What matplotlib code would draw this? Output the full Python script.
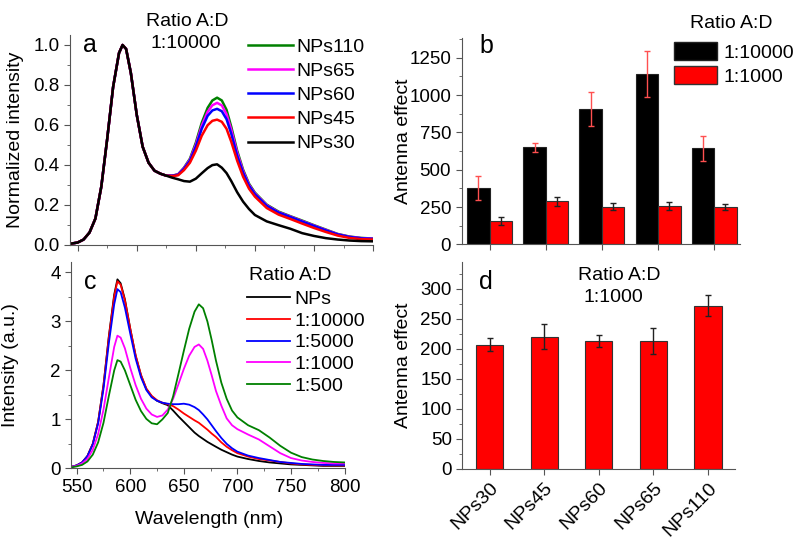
import matplotlib
matplotlib.use("Agg")
import matplotlib.pyplot as plt
from matplotlib.ticker import MultipleLocator, AutoMinorLocator
from matplotlib.patches import Patch
import numpy as np

plt.rcParams['font.family'] = ['Liberation Sans', 'DejaVu Sans']
plt.rcParams['font.size'] = 14

# wavelength grid (nm)
wl = [545, 550, 555, 560, 565, 570, 575, 580, 585, 588, 591, 595, 600, 605, 610,
      615, 620, 625, 630, 635, 640, 645, 650, 655, 660, 664, 668, 672, 676, 680,
      685, 690, 695, 700, 710, 720, 730, 740, 750, 760, 770, 780, 790, 800]

# panel a: normalized spectra, ratio 1:10000
common_a = [0.005, 0.01, 0.025, 0.06, 0.13, 0.29, 0.53, 0.79, 0.96, 1.0, 0.98, 0.86,
            0.65, 0.49, 0.41, 0.37, 0.355, 0.345]
nps30 = common_a + [0.335, 0.327, 0.318, 0.315, 0.33, 0.357, 0.383, 0.398, 0.402, 0.385,
                    0.358, 0.318, 0.262, 0.215, 0.178, 0.148, 0.116, 0.097, 0.079, 0.057,
                    0.043, 0.032, 0.025, 0.02, 0.017, 0.016]
nps45 = common_a + [0.343, 0.347, 0.373, 0.41, 0.47, 0.545, 0.598, 0.62, 0.626, 0.615,
                    0.58, 0.515, 0.42, 0.34, 0.28, 0.24, 0.183, 0.15, 0.128, 0.105,
                    0.083, 0.063, 0.045, 0.033, 0.027, 0.025]
nps60 = common_a + [0.345, 0.35, 0.38, 0.42, 0.49, 0.58, 0.645, 0.672, 0.68, 0.668,
                    0.628, 0.555, 0.445, 0.36, 0.295, 0.252, 0.194, 0.16, 0.138, 0.115,
                    0.093, 0.071, 0.051, 0.038, 0.031, 0.028]
nps65 = common_a + [0.345, 0.351, 0.383, 0.425, 0.5, 0.595, 0.665, 0.698, 0.71, 0.697,
                    0.653, 0.575, 0.46, 0.368, 0.3, 0.256, 0.197, 0.162, 0.14, 0.117,
                    0.095, 0.073, 0.052, 0.039, 0.032, 0.029]
nps110 = common_a + [0.345, 0.352, 0.385, 0.43, 0.51, 0.61, 0.685, 0.722, 0.736, 0.722,
                     0.675, 0.59, 0.47, 0.375, 0.305, 0.26, 0.2, 0.165, 0.142, 0.12,
                     0.097, 0.075, 0.053, 0.04, 0.033, 0.03]

# panel c: intensity (a.u.) for different A:D ratios
int_nps = [0.03, 0.06, 0.12, 0.25, 0.5, 0.95, 1.7, 2.7, 3.55, 3.86, 3.78, 3.45, 2.85,
           2.3, 1.9, 1.62, 1.47, 1.38, 1.33, 1.29, 1.18, 1.06, 0.95, 0.84, 0.73, 0.66,
           0.6, 0.54, 0.49, 0.44, 0.38, 0.33, 0.28, 0.24, 0.19, 0.15, 0.12, 0.1, 0.08,
           0.07, 0.06, 0.05, 0.05, 0.05]
int_10000 = [0.03, 0.06, 0.12, 0.25, 0.5, 0.95, 1.69, 2.68, 3.51, 3.82, 3.75, 3.43, 2.85,
             2.31, 1.91, 1.63, 1.48, 1.39, 1.34, 1.31, 1.27, 1.2, 1.12, 1.05, 0.98, 0.93,
             0.86, 0.79, 0.71, 0.64, 0.53, 0.44, 0.37, 0.31, 0.24, 0.19, 0.16, 0.13, 0.1,
             0.08, 0.07, 0.06, 0.06, 0.06]
int_5000 = [0.03, 0.06, 0.12, 0.25, 0.49, 0.92, 1.62, 2.56, 3.35, 3.66, 3.6, 3.28, 2.75,
            2.24, 1.86, 1.6, 1.45, 1.38, 1.34, 1.32, 1.31, 1.31, 1.32, 1.3, 1.25, 1.19,
            1.1, 1.0, 0.88, 0.76, 0.62, 0.5, 0.41, 0.34, 0.26, 0.21, 0.17, 0.13, 0.11,
            0.09, 0.08, 0.07, 0.07, 0.07]
int_1000 = [0.03, 0.05, 0.1, 0.19, 0.38, 0.7, 1.2, 1.85, 2.48, 2.71, 2.67, 2.45, 2.05,
            1.7, 1.42, 1.22, 1.1, 1.05, 1.08, 1.2, 1.42, 1.72, 2.03, 2.3, 2.48, 2.53,
            2.44, 2.2, 1.9, 1.58, 1.28, 1.02, 0.88, 0.8, 0.69, 0.59, 0.45, 0.31, 0.21,
            0.16, 0.13, 0.11, 0.1, 0.1]
int_500 = [0.02, 0.04, 0.07, 0.14, 0.28, 0.53, 0.93, 1.48, 2.0, 2.21, 2.18, 2.0, 1.7,
           1.4, 1.17, 1.01, 0.92, 0.9, 1.0, 1.13, 1.47, 1.93, 2.4, 2.85, 3.2, 3.35,
           3.27, 3.0, 2.62, 2.2, 1.75, 1.42, 1.18, 1.04, 0.88, 0.78, 0.63, 0.46, 0.32,
           0.23, 0.18, 0.15, 0.13, 0.12]

# panels b and d: antenna effect
samples = ['NPs30', 'NPs45', 'NPs60', 'NPs65', 'NPs110']
ae_10000 = [378, 650, 907, 1142, 643]
ae_10000_err = [78, 30, 117, 153, 82]
ae_1000 = [157, 289, 253, 255, 253]
ae_1000_err = [28, 29, 22, 27, 20]
ae_d = [207, 220, 213, 213, 272]
ae_d_err = [11, 21, 9.5, 21, 17]

GREEN = '#008000'
MAGENTA = '#ff00ff'
SPINE = '#555555'
W, H = 800, 548


def fx(px):
    return px / W


def fy(py):
    return 1 - py / H


def style_axes(ax):
    for s in ['top', 'right']:
        ax.spines[s].set_visible(False)
    for s in ['left', 'bottom']:
        ax.spines[s].set_color(SPINE)
    ax.tick_params(which='both', direction='out', color=SPINE, labelsize=13.5)
    ax.tick_params(which='major', length=4)
    ax.tick_params(which='minor', length=2)


fig = plt.figure(figsize=(8, 5.48), dpi=100)

# ---- panel a
ax_a = fig.add_axes([0.0875, 0.5538, 0.3788, 0.3823])
ax_a.plot(wl, nps110, color=GREEN, lw=1.8, label='NPs110')
ax_a.plot(wl, nps65, color=MAGENTA, lw=1.8, label='NPs65')
ax_a.plot(wl, nps60, color='blue', lw=1.8, label='NPs60')
ax_a.plot(wl, nps45, color='red', lw=1.8, label='NPs45')
ax_a.plot(wl, nps30, color='black', lw=1.8, label='NPs30')
ax_a.set_xlim(543.5, 800)
ax_a.set_ylim(0, 1.05)
ax_a.xaxis.set_major_locator(MultipleLocator(50))
ax_a.xaxis.set_minor_locator(AutoMinorLocator(2))
ax_a.yaxis.set_major_locator(MultipleLocator(0.2))
ax_a.yaxis.set_minor_locator(AutoMinorLocator(2))
ax_a.yaxis.set_major_formatter(plt.FuncFormatter(lambda v, p: f'{v:.1f}'))
ax_a.set_xticklabels([])
style_axes(ax_a)
ax_a.set_ylabel('Normalized intensity', fontsize=14)
ax_a.yaxis.set_label_coords(-0.152, 0.5)
ax_a.legend(loc='upper left', bbox_to_anchor=(fx(248), fy(38)), bbox_transform=fig.transFigure,
            frameon=False, fontsize=14, handlelength=2.3, handletextpad=0.2,
            labelspacing=0.34, borderpad=0, borderaxespad=0)
fig.text(fx(90), fy(45), 'a', fontsize=18, ha='center', va='center')
fig.text(fx(187), fy(21), 'Ratio A:D', fontsize=14, ha='center', va='center')
fig.text(fx(186), fy(44), '1:10000', fontsize=14, ha='center', va='center')

# ---- panel b
ax_b = fig.add_axes([0.577, 0.554, 0.348, 0.376])
x = np.arange(len(samples))
ax_b.bar(x - 0.2, ae_10000, 0.4, color='black', edgecolor='#222222', lw=0.8)
ax_b.bar(x + 0.2, ae_1000, 0.4, color='red', edgecolor='#333333', lw=0.8)
ax_b.errorbar(x - 0.2, ae_10000, yerr=ae_10000_err, fmt='none', ecolor='#ff5050',
              elinewidth=1, capsize=2.5, capthick=1)
ax_b.errorbar(x + 0.2, ae_1000, yerr=ae_1000_err, fmt='none', ecolor='#222222',
              elinewidth=1, capsize=2.5, capthick=1)
ax_b.set_xlim(-0.5, 4.46)
ax_b.set_ylim(0, 1380)
ax_b.set_xticks(x)
ax_b.set_xticklabels([])
ax_b.yaxis.set_major_locator(MultipleLocator(250))
ax_b.yaxis.set_minor_locator(AutoMinorLocator(2))
style_axes(ax_b)
ax_b.set_ylabel('Antenna effect', fontsize=14)
ax_b.yaxis.set_label_coords(-0.179, 0.5)
fig.text(fx(486), fy(46), 'b', fontsize=18, ha='center', va='center')
fig.text(fx(731), fy(23), 'Ratio A:D', fontsize=14, ha='center', va='center')
handles = [Patch(facecolor='black', edgecolor='#222222'),
           Patch(facecolor='red', edgecolor='#333333')]
ax_b.legend(handles, ['1:10000', '1:1000'], loc='upper left',
            bbox_to_anchor=(fx(674), fy(42)), bbox_transform=fig.transFigure,
            frameon=False, fontsize=14, handlelength=2.2, handleheight=1.08,
            handletextpad=0.35, labelspacing=0.2, borderpad=0, borderaxespad=0)

# ---- panel c
ax_c = fig.add_axes([0.0888, 0.1454, 0.3425, 0.377])
ax_c.plot(wl, int_nps, color='black', lw=1.3, label='NPs')
ax_c.plot(wl, int_10000, color='red', lw=1.3, label='1:10000')
ax_c.plot(wl, int_5000, color='blue', lw=1.3, label='1:5000')
ax_c.plot(wl, int_1000, color=MAGENTA, lw=1.3, label='1:1000')
ax_c.plot(wl, int_500, color=GREEN, lw=1.3, label='1:500')
ax_c.set_xlim(544.7, 800.5)
ax_c.set_ylim(0, 4.22)
ax_c.xaxis.set_major_locator(MultipleLocator(50))
ax_c.xaxis.set_minor_locator(AutoMinorLocator(2))
ax_c.yaxis.set_major_locator(MultipleLocator(1))
ax_c.yaxis.set_minor_locator(AutoMinorLocator(2))
style_axes(ax_c)
ax_c.set_ylabel('Intensity (a.u.)', fontsize=14)
ax_c.yaxis.set_label_coords(-0.19, 0.5)
ax_c.set_xlabel('Wavelength (nm)', fontsize=14)
ax_c.xaxis.set_label_coords(0.504, -0.205)
ax_c.legend(loc='upper left', bbox_to_anchor=(fx(247), fy(290)), bbox_transform=fig.transFigure,
            frameon=False, fontsize=14, handlelength=2.2, handletextpad=0.25,
            labelspacing=0.22, borderpad=0, borderaxespad=0)
fig.text(fx(290), fy(276), 'Ratio A:D', fontsize=14, ha='center', va='center')
fig.text(fx(90), fy(282), 'c', fontsize=18, ha='center', va='center')

# ---- panel d
ax_d = fig.add_axes([0.578, 0.1442, 0.341, 0.378])
ax_d.bar(x, ae_d, 0.5, color='red', edgecolor='#333333', lw=0.8)
ax_d.errorbar(x, ae_d, yerr=ae_d_err, fmt='none', ecolor='#222222',
              elinewidth=1, capsize=2.5, capthick=1)
ax_d.set_xlim(-0.5, 4.5)
ax_d.set_ylim(0, 345)
ax_d.set_xticks(x)
ax_d.set_xticklabels(samples, rotation=45, ha='right', rotation_mode='anchor')
ax_d.yaxis.set_major_locator(MultipleLocator(50))
ax_d.yaxis.set_minor_locator(AutoMinorLocator(2))
style_axes(ax_d)
ax_d.tick_params(axis='x', labelsize=14)
ax_d.set_ylabel('Antenna effect', fontsize=14)
ax_d.yaxis.set_label_coords(-0.184, 0.5)
fig.text(fx(486), fy(282), 'd', fontsize=18, ha='center', va='center')
fig.text(fx(619), fy(275), 'Ratio A:D', fontsize=14, ha='center', va='center')
fig.text(fx(613), fy(298), '1:1000', fontsize=14, ha='center', va='center')

fig.savefig('out.png', dpi=100)
